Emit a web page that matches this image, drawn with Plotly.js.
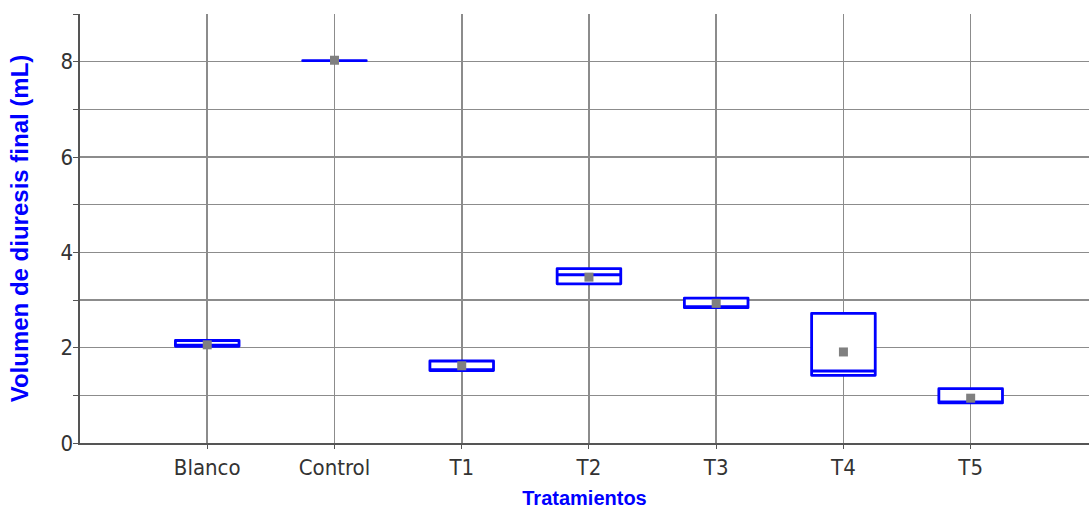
<!DOCTYPE html>
<html>
<head>
<meta charset="utf-8">
<script src="https://cdn.plot.ly/plotly-3.0.1.min.js"></script>
<style>
html,body{margin:0;padding:0;background:#fff;}
#chart{width:1089px;height:509px;}
#chart .boxlayer path{stroke-linejoin:round;}
</style>
</head>
<body>
<div id="chart"></div>
<script>
const categories = ["Blanco", "Control", "T1", "T2", "T3", "T4", "T5"];
const q1Values     = [2.03, 8.02, 1.52, 3.34, 2.84, 1.42, 0.84];
const medianValues = [2.03, 8.02, 1.52, 3.53, 2.84, 1.51, 0.84];
const q3Values     = [2.15, 8.02, 1.72, 3.66, 3.04, 2.72, 1.14];
const meanValues   = [2.06, 8.03, 1.62, 3.48, 2.93, 1.91, 0.94];
const yTickValues  = [0, 1, 2, 3, 4, 5, 6, 7, 8, 9];
const yTickLabels  = ["0", "", "2", "", "4", "", "6", "", "8", ""];

const tickFont = {family: "Liberation Sans Narrow, DejaVu Sans Condensed, Arial Narrow, sans-serif", size: 22, color: "#333333"};
const xTitleFont = {family: "Liberation Sans, Arial, sans-serif", size: 20, color: "#0000ff", weight: "bold"};
const yTitleFont = {family: "Liberation Sans, Arial, sans-serif", size: 24, color: "#0000ff", weight: "bold"};

const boxTrace = {
  type: "box",
  x: categories,
  q1: q1Values,
  median: medianValues,
  q3: q3Values,
  lowerfence: q1Values,
  upperfence: q3Values,
  boxpoints: false,
  whiskerwidth: 0,
  width: 0.5,
  fillcolor: "#ffffff",
  line: {color: "#0000ff", width: 2.8},
  hoverinfo: "skip",
  showlegend: false
};

const meanTrace = {
  type: "scatter",
  mode: "markers",
  x: categories,
  y: meanValues,
  marker: {symbol: "square", size: 9, color: "#808080"},
  showlegend: false,
  hoverinfo: "skip"
};

const layout = {
  width: 1089,
  height: 509,
  margin: {l: 80, r: 0, t: 14, b: 66},
  paper_bgcolor: "#ffffff",
  plot_bgcolor: "#ffffff",
  showlegend: false,
  xaxis: {
    type: "category",
    range: [-1, 6.93],
    showgrid: true,
    gridcolor: "#8c8c8c",
    gridwidth: 1.6,
    showline: true,
    linecolor: "#555555",
    linewidth: 1.6,
    ticks: "outside",
    ticklen: 4,
    tickcolor: "#555555",
    tickfont: tickFont,
    zeroline: false,
    fixedrange: true,
    automargin: false,
    title: {text: "Tratamientos", font: xTitleFont, standoff: 14}
  },
  yaxis: {
    range: [0, 9],
    tickmode: "array",
    tickvals: yTickValues,
    ticktext: yTickLabels,
    showgrid: true,
    gridcolor: "#8c8c8c",
    gridwidth: 1.6,
    showline: true,
    linecolor: "#555555",
    linewidth: 1.6,
    ticks: "outside",
    ticklen: 5,
    tickcolor: "#555555",
    tickfont: tickFont,
    ticklabelstandoff: -4,
    zeroline: false,
    fixedrange: true,
    automargin: false,
    title: {text: "Volumen de diuresis final (mL)", font: yTitleFont, standoff: 25}
  }
};

Plotly.newPlot("chart", [boxTrace, meanTrace], layout, {displayModeBar: false, staticPlot: true});
</script>
</body>
</html>
